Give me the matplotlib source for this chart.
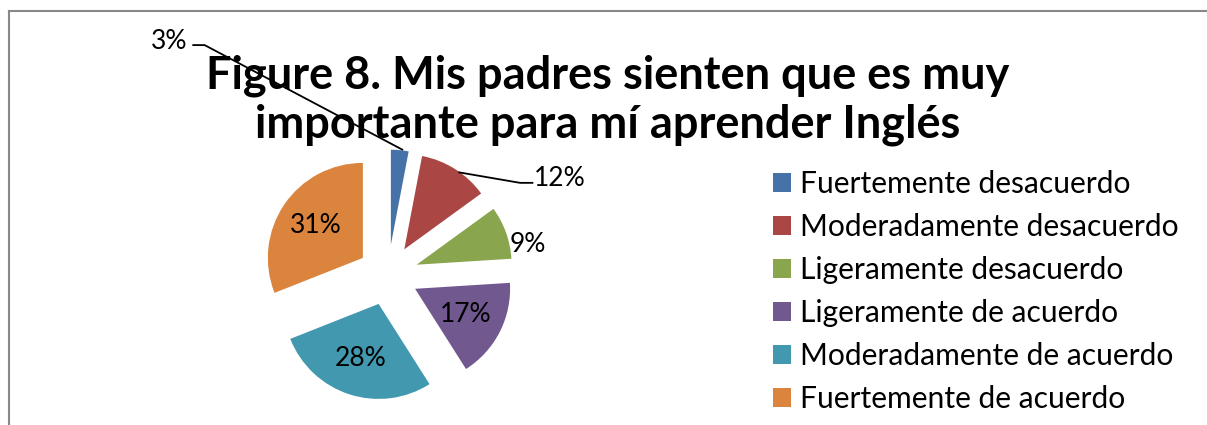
import matplotlib.pyplot as plt
from matplotlib.lines import Line2D

# datos de la figura 8
categorias = ['Fuertemente desacuerdo', 'Moderadamente desacuerdo',
              'Ligeramente desacuerdo', 'Ligeramente de acuerdo',
              'Moderadamente de acuerdo', 'Fuertemente de acuerdo']
porcentajes = [3, 12, 9, 17, 28, 31]
colores = ['#4572A7', '#AA4643', '#89A54E', '#71588F', '#4198AF', '#DB843D']
titulo = 'Figure 8. Mis padres sienten que es muy\nimportante para mí aprender Inglés'

W, H = 1207, 425
fig = plt.figure(figsize=(W / 100, H / 100), dpi=100)
plt.rcParams['font.family'] = ['Lato', 'DejaVu Sans']

# marco del gráfico (solo borde superior e izquierdo visibles)
fx, fy = 8.5 / W, 1 - 10.5 / H
fig.add_artist(Line2D([fx, 1.05], [fy, fy], transform=fig.transFigure,
                      color='#888888', lw=1.5))
fig.add_artist(Line2D([fx, fx], [-0.05, fy], transform=fig.transFigure,
                      color='#888888', lw=1.5))

# pie: centro (388, 275) px, radio 95 px
r_px = 95
lim = 1.6
side = 2 * lim * r_px
cx, cy = 388, H - 275
ax = fig.add_axes([(cx - side / 2) / W, (cy - side / 2) / H, side / W, side / H])
wedges, _, autotexts = ax.pie(porcentajes, colors=colores, startangle=90,
                              counterclock=False, explode=[0.32] * 6,
                              autopct='%d%%', pctdistance=0.6,
                              textprops={'fontsize': 19, 'color': 'black'})
for w in wedges:
    w.set_clip_on(False)
ax.set_xlim(-lim, lim)
ax.set_ylim(-lim, lim)
ax.set_aspect('equal')
ax.axis('off')

# etiquetas fuera de las porciones pequeñas
autotexts[2].set_position((1.47, 0.32))
autotexts[1].set_position((1.81, 1.02))
autotexts[0].set_position((-2.30, 2.46))
for t in autotexts:
    t.set_clip_on(False)
ax.plot([0.75, 1.39, 1.52], [1.08, 0.97, 0.97], color='black', lw=1.3,
        clip_on=False)
ax.plot([0.15, -1.93, -2.05], [1.32, 2.42, 2.42], color='black', lw=1.3,
        clip_on=False, zorder=5)

fig.text(608 / W, 1 - 100 / H, titulo, ha='center', va='center',
         fontsize=32.5, fontweight='bold', linespacing=1.2)

fig.legend(wedges, categorias, loc='upper left',
           bbox_to_anchor=(773 / W, 1 - 170 / H), frameon=False,
           fontsize=21.6, handlelength=0.6, handleheight=0.6,
           handletextpad=0.3, labelspacing=0.5, borderpad=0,
           borderaxespad=0)

fig.savefig('out.png', dpi=100)
